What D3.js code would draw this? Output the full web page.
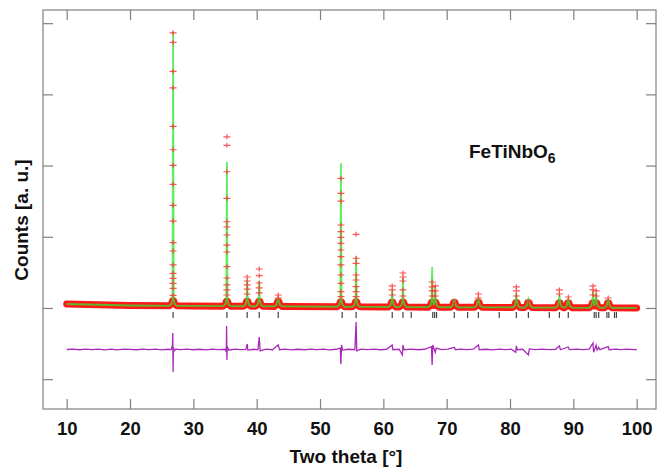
<!DOCTYPE html>
<html>
<head>
<meta charset="utf-8">
<script src="https://cdn.jsdelivr.net/npm/d3@7"></script>
<style>
  body { margin: 0; background: #fff; }
  svg { display: block; font-family: "Liberation Sans", Arial, sans-serif; }
  .axis path { display: none; }
  .axis line { stroke: #808080; stroke-width: 1.2; }
  .axis text { font-size: 18.5px; font-weight: bold; fill: #111; }
  .axisLabel { font-size: 19px; font-weight: bold; fill: #111; }
</style>
</head>
<body>
<svg width="664" height="468"></svg>
<script>
var svg = d3.select('svg');

// background of the observed pattern (two theta, counts)
var bgTheta  = [10, 15, 20, 30, 45, 60, 80, 100];
var bgCounts = [56, 45, 35, 28, 21, 14, 7, 0];

// reflections with their calculated top and the observed points on each peak
var peakTheta = [26.8, 35.3, 38.5, 40.4, 43.4, 53.3, 55.7, 61.4, 63.1, 67.7, 68.2,
                 71.2, 75.0, 81.0, 82.9, 87.8, 89.2, 93.1, 93.6, 95.5];
var peakCalc  = [3883, 2053, 393, 379, 140, 2031, 720, 253, 421, 575, 300,
                 84, 154, 211, 126, 196, 126, 239, 211, 112];
var peakObs = [
  [3864, 3729, 3322, 3092, 2550, 2222, 2003, 1736, 1441, 1221, 918, 800, 604, 487, 417, 346, 276, 178],
  [2404, 2284, 1913, 1540, 1211, 1137, 1025, 884, 786, 580, 421, 323, 253, 182],
  [435, 379, 323, 266, 196],
  [547, 453, 351, 281, 211],
  [182, 140],
  [1820, 1610, 1502, 1165, 1071, 992, 908, 814, 720, 604, 463, 346, 229, 159],
  [1034, 698, 627, 463, 393, 299, 229, 159],
  [309, 253, 182],
  [491, 435, 379, 253, 168],
  [365, 295, 239, 168],
  [309, 239, 168],
  [70],
  [196, 140],
  [295, 239, 168],
  [84],
  [253, 196],
  [154],
  [309, 253, 182],
  [239, 168],
  [140]
];

// Bragg reflection markers (two theta)
var braggTheta = [26.8, 35.3, 38.5, 40.4, 43.4, 53.5, 55.7, 61.4, 63.1, 64.4, 67.8, 68.1, 68.4,
                  71.2, 73.3, 75.0, 78.3, 81.0, 82.9, 86.2, 87.8, 89.2, 93.3, 93.6, 94.0,
                  95.3, 95.6, 96.5, 96.8];

// difference curve obs - calc (two theta, counts), drawn shifted below the pattern
var diffShift = -583;
var diffTheta = [10, 11, 12, 13, 14, 15, 16, 17, 18, 19, 20, 21, 22, 23, 24, 25, 26, 26.5,
  26.7, 26.75, 26.8, 26.85, 26.95, 27.2, 28, 29, 30, 31, 32, 33, 34, 35,
  35.2, 35.25, 35.3, 35.35, 35.6, 36.5, 37.5, 38.3, 38.5, 38.6, 39.5, 40.2, 40.4, 40.55,
  41.5, 42.5, 43.4, 43.6, 44.5, 45.5, 46.5, 47.5, 48.5, 49.5, 50.5, 51.5, 52.5,
  53.2, 53.3, 53.4, 53.55, 54.5, 55.5, 55.7, 55.8, 56.5, 57.5, 58.5, 59.5, 60.5,
  61.4, 61.5, 62.5, 63.0, 63.1, 63.25, 64.4, 65.5, 66.5, 67.6, 67.7, 67.8, 68.2, 68.35,
  69.2, 70.2, 71.2, 71.4, 72.2, 73.2, 74.2, 75.0, 75.15, 76.2, 77.2, 78.3, 79.2, 80.2,
  80.9, 81.0, 81.15, 82, 82.9, 83.05, 84, 85, 86.2, 87.2, 87.8, 87.95, 89.2, 89.35,
  90.5, 91.5, 92.5, 93.1, 93.2, 93.6, 93.75, 94.0, 94.2, 95.5, 95.65, 96.7, 97.5, 98.5, 99.5, 100];
var diffCounts = [0, 5, -4, 5, -3, 6, -5, 4, -5, 5, 2, -4, 5, -3, 4, -5, 3, -2,
  60, 232, -316, 30, -20, 4, -3, 5, -4, 3, -5, 4, -2, 3,
  -30, 330, -147, 40, -10, 4, -3, 2, 77, -8, 3, -4, 175, -20,
  4, -4, 63, -3, 4, -5, 3, -4, 5, -3, 4, -5, 3,
  20, -204, 63, -8, 3, -4, 386, -20, 4, -3, 5, -4, 3,
  63, -4, 3, -77, 63, -3, 5, -4, 3, 40, -218, 63, -40, 20,
  -3, 4, 30, -4, 4, -3, 4, 63, -4, 3, -5, 4, -3, 4,
  -40, 50, -3, 3, -77, 8, -3, 4, -2, 3, 50, -4, 35, -3,
  4, -3, 4, 91, -40, 60, -8, 30, -3, 40, -3, 4, -3, 4, -3, 0];

var xTicks = [10, 20, 30, 40, 50, 60, 70, 80, 90, 100];
var yTicks = [-1000, 0, 1000, 2000, 3000, 4000];

var plotLeft = 43, plotRight = 656, plotTop = 10, plotBottom = 409;

var xScale = d3.scaleLinear().domain([6.26, 103.05]).range([plotLeft, plotRight]);
var yScale = d3.scaleLinear().domain([-1419, 4185]).range([plotBottom, plotTop]);

var bgAt = d3.scaleLinear().domain(bgTheta).range(bgCounts);

// peak outline (hump at the base, sharp tip) built from the peak table
var humpOff = [-0.6, -0.25, -0.1, 0, 0.1, 0.25, 0.6];
function peakShape(i) {
  var h = [0, 25, 90, peakCalc[i] - bgAt(peakTheta[i]), 90, 25, 0];
  return d3.scaleLinear().domain(humpOff.map(function(o){ return peakTheta[i] + o; }))
    .range(h).clamp(true);
}
var shapes = peakTheta.map(function(d, i){ return peakShape(i); });

var knots = bgTheta.slice();
peakTheta.forEach(function(p){
  humpOff.forEach(function(o){ knots.push(p + o); });
});
knots.sort(d3.ascending);

var calcPts = knots.map(function(t){
  var add = d3.max(shapes, function(s){ return s(t); });
  return [t, bgAt(t) + add];
});
var bandPts = calcPts.map(function(d){
  return [d[0], Math.min(d[1], bgAt(d[0]) + 70)];
});

var line = d3.line()
  .x(function(d){ return xScale(d[0]); })
  .y(function(d){ return yScale(d[1]); });

// observed band
svg.append('path')
  .datum(bandPts)
  .attr('d', line)
  .attr('fill', 'none')
  .attr('stroke', '#ff1a1a')
  .attr('stroke-width', 7)
  .attr('stroke-linejoin', 'round')
  .attr('stroke-linecap', 'round');

// observed points on peaks
var obsPts = [];
peakObs.forEach(function(list, i){
  list.forEach(function(v){ obsPts.push([peakTheta[i], v]); });
});

// calculated profile
svg.append('path')
  .datum(calcPts)
  .attr('d', line)
  .attr('fill', 'none')
  .attr('stroke', '#2ee82e')
  .attr('stroke-opacity', 0.75)
  .attr('stroke-width', 1.8);

svg.selectAll('.obs')
  .data(obsPts)
  .enter()
  .append('path')
  .attr('class', 'obs')
  .attr('transform', function(d){ return 'translate(' + xScale(d[0]) + ',' + yScale(d[1]) + ')'; })
  .attr('d', 'M-3.5,0H3.5M0,-2.5V2.5')
  .attr('stroke', '#ff2a2a')
  .attr('stroke-opacity', 0.8)
  .attr('stroke-width', 1.2);

// Bragg markers
svg.selectAll('.bragg')
  .data(braggTheta)
  .enter()
  .append('line')
  .attr('class', 'bragg')
  .attr('x1', function(d){ return xScale(d); })
  .attr('x2', function(d){ return xScale(d); })
  .attr('y1', 312)
  .attr('y2', 318)
  .attr('stroke', '#444')
  .attr('stroke-width', 1.2);

// difference curve
var diffPts = diffTheta.map(function(t, i){ return [t, diffShift + diffCounts[i]]; });
svg.append('path')
  .datum(diffPts)
  .attr('d', line)
  .attr('fill', 'none')
  .attr('stroke', '#a82ab8')
  .attr('stroke-width', 1.3);

// axes with inward ticks
svg.append('g')
  .attr('class', 'x axis')
  .attr('transform', 'translate(0,' + plotBottom + ')')
  .call(d3.axisBottom(xScale).tickValues(xTicks).tickSizeInner(-10).tickSizeOuter(0).tickPadding(12.5));

svg.append('g')
  .attr('class', 'x axis')
  .attr('transform', 'translate(0,' + plotTop + ')')
  .call(d3.axisTop(xScale).tickValues(xTicks).tickSizeInner(-10).tickSizeOuter(0).tickFormat(''));

svg.append('g')
  .attr('class', 'y axis')
  .attr('transform', 'translate(' + plotLeft + ',0)')
  .call(d3.axisLeft(yScale).tickValues(yTicks).tickSizeInner(-10).tickSizeOuter(0).tickFormat(''));

svg.append('g')
  .attr('class', 'y axis')
  .attr('transform', 'translate(' + plotRight + ',0)')
  .call(d3.axisRight(yScale).tickValues(yTicks).tickSizeInner(-10).tickSizeOuter(0).tickFormat(''));

// frame
svg.append('rect')
  .attr('x', plotLeft)
  .attr('y', plotTop)
  .attr('width', plotRight - plotLeft)
  .attr('height', plotBottom - plotTop)
  .attr('fill', 'none')
  .attr('stroke', '#808080')
  .attr('stroke-width', 1.2);

// labels
svg.append('text')
  .attr('class', 'axisLabel')
  .attr('text-anchor', 'middle')
  .attr('x', 346)
  .attr('y', 463)
  .text('Two theta [°]');

svg.append('text')
  .attr('class', 'axisLabel')
  .attr('text-anchor', 'middle')
  .attr('transform', 'translate(28,220)rotate(-90)')
  .text('Counts [a. u.]');

var formula = svg.append('text')
  .attr('class', 'axisLabel')
  .attr('x', 469)
  .attr('y', 158);
formula.append('tspan').text('FeTiNbO');
formula.append('tspan').attr('dy', 5).attr('font-size', '14px').text('6');
</script>
</body>
</html>
